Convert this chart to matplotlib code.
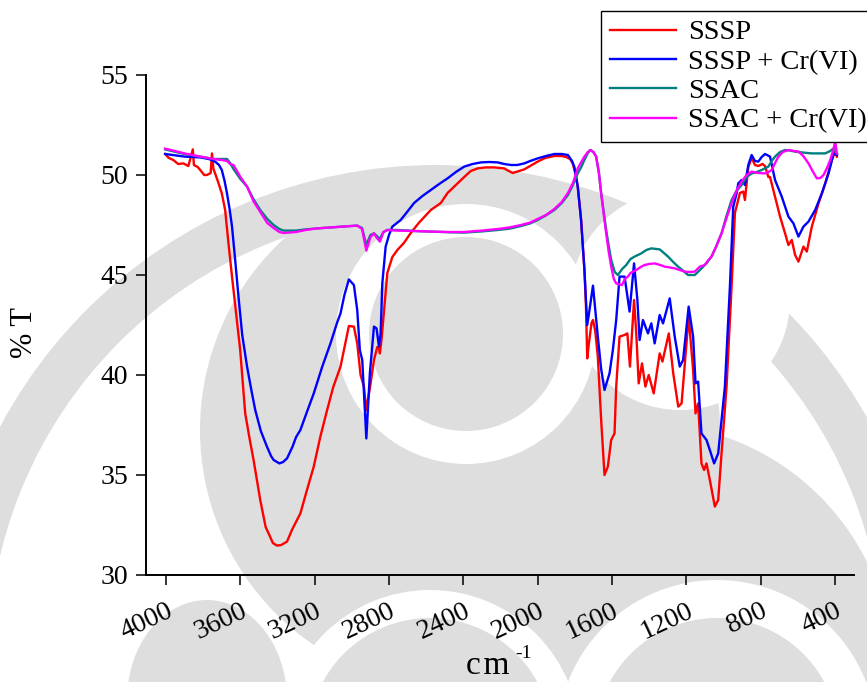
import matplotlib
matplotlib.use("Agg")
import matplotlib.pyplot as plt
from matplotlib.patches import Circle, Wedge, Ellipse

plt.rcParams['font.family'] = ['Liberation Serif', 'DejaVu Serif']

# FTIR spectra: wavenumber (cm-1) and transmittance (%)
sssp_wn = [4005, 3985, 3961, 3935, 3907, 3880, 3856, 3850, 3830, 3816, 3795, 3780, 3760, 3753,
           3745, 3736, 3718, 3700, 3682, 3664, 3645, 3628, 3601, 3574, 3550, 3529, 3493, 3464,
           3448, 3425, 3403, 3380, 3349, 3320, 3277, 3240, 3205, 3170, 3133, 3100, 3061, 3030,
           3016, 2989, 2971, 2953, 2935, 2922, 2899, 2881, 2863, 2854, 2849, 2840, 2827, 2809,
           2782, 2755, 2720, 2683, 2640, 2575, 2521, 2485, 2440, 2395, 2360, 2323, 2280, 2234,
           2200, 2180, 2155, 2134, 2100, 2072, 2040, 2000, 1960, 1910, 1870, 1847, 1825, 1811,
           1795, 1784, 1766, 1748, 1740, 1733, 1725, 1710, 1702, 1690, 1676, 1658, 1640, 1622,
           1604, 1586, 1577, 1559, 1532, 1517, 1503, 1492, 1481, 1469, 1456, 1438, 1420, 1402,
           1375, 1343, 1328, 1294, 1270, 1243, 1225, 1187, 1163, 1150, 1136, 1118, 1104, 1091,
           1073, 1046, 1028, 1010, 983, 956, 938, 911, 893, 884, 866, 848, 830, 812, 790, 776,
           758, 749, 722, 695, 668, 650, 632, 614, 596, 569, 551, 524, 488, 452, 416, 398, 389]
sssp_t = [51.05, 50.85, 50.75, 50.55, 50.58, 50.45, 51.28, 50.5, 50.4, 50.25, 50.0, 50.0, 50.1, 51.08,
          50.3, 50.08, 49.6, 49.08, 48.25, 46.58, 44.92, 43.5, 41.25, 38.08, 36.8, 35.75, 33.75, 32.4,
          32.08, 31.6, 31.47, 31.5, 31.67, 32.3, 33.08, 34.3, 35.42, 36.9, 38.25, 39.4, 40.42, 41.8,
          42.45, 42.42, 41.58, 40.0, 39.42, 38.25, 39.58, 40.75, 41.4, 41.33, 41.08, 41.8, 43.2, 45.1,
          45.9, 46.25, 46.6, 47.1, 47.6, 48.25, 48.6, 49.1, 49.5, 49.9, 50.2, 50.33, 50.38, 50.38,
          50.35, 50.33, 50.2, 50.1, 50.2, 50.28, 50.45, 50.67, 50.85, 50.95, 50.95, 50.9, 50.8, 50.58,
          50.0, 49.42, 47.75, 45.25, 43.5, 40.83, 41.5, 42.6, 42.75, 42.2, 40.92, 37.75, 35.0, 35.42,
          36.75, 37.08, 39.42, 41.92, 42.0, 42.08, 40.42, 42.08, 43.75, 42.08, 39.58, 40.58, 39.42, 40.0,
          39.08, 41.08, 40.67, 42.08, 40.08, 38.42, 38.58, 42.92, 40.25, 38.08, 38.58, 35.58, 35.25, 35.58,
          34.75, 33.42, 33.75, 36.08, 39.42, 44.42, 48.1, 49.1, 49.17, 48.75, 50.4, 50.85, 50.5, 50.45, 50.55, 50.45,
          49.9, 49.9, 48.92, 47.92, 47.08, 46.5, 46.75, 46.0, 45.67, 46.42, 46.17, 47.42, 48.58, 49.58, 50.75, 51.2, 50.92]

sssp_cr_wn = [4005, 3950, 3900, 3816, 3770, 3736, 3715, 3700, 3685, 3672, 3658, 3645, 3628, 3610,
              3590, 3564, 3540, 3520, 3490, 3457, 3435, 3421, 3390, 3370, 3349, 3320, 3300, 3277,
              3240, 3205, 3160, 3115, 3080, 3061, 3040, 3016, 2989, 2971, 2957, 2944, 2922, 2903,
              2881, 2867, 2854, 2845, 2836, 2818, 2800, 2782, 2737, 2701, 2665, 2620, 2575, 2530,
              2485, 2440, 2395, 2350, 2305, 2260, 2215, 2180, 2143, 2110, 2072, 2040, 2000, 1955,
              1910, 1870, 1837, 1815, 1802, 1784, 1766, 1748, 1740, 1733, 1720, 1702, 1690, 1676,
              1658, 1640, 1613, 1595, 1577, 1559, 1532, 1505, 1481, 1463, 1451, 1433, 1406, 1388,
              1370, 1343, 1325, 1289, 1262, 1235, 1217, 1187, 1163, 1150, 1136, 1118, 1091, 1073,
              1050, 1028, 992, 965, 947, 929, 920, 902, 884, 866, 848, 830, 812, 794, 776, 749,
              722, 686, 650, 623, 596, 569, 542, 506, 470, 434, 407, 389]
sssp_cr_t = [51.05, 50.98, 50.92, 50.88, 50.8, 50.67, 50.5, 50.25, 49.7, 49.08, 48.3, 47.42, 45.75, 43.9,
             42.0, 40.42, 39.2, 38.25, 37.2, 36.42, 35.95, 35.75, 35.58, 35.65, 35.83, 36.4, 36.9, 37.25,
             38.2, 39.08, 40.4, 41.58, 42.6, 43.08, 44.0, 44.78, 44.5, 43.25, 41.25, 40.75, 36.83, 40.08,
             42.42, 42.33, 41.42, 42.08, 44.58, 46.42, 47.0, 47.42, 47.75, 48.17, 48.6, 48.95, 49.25, 49.55,
             49.83, 50.15, 50.42, 50.55, 50.63, 50.65, 50.63, 50.55, 50.5, 50.5, 50.58, 50.7, 50.83, 50.95,
             51.05, 51.05, 51.0, 50.7, 50.4, 49.42, 47.75, 45.25, 43.8, 42.5, 43.3, 44.47, 43.3, 41.92,
             40.3, 39.25, 40.08, 41.25, 42.75, 44.92, 44.92, 43.17, 45.58, 43.75, 41.75, 42.75, 42.08, 42.58,
             41.58, 43.0, 42.58, 43.83, 41.92, 40.42, 40.75, 43.42, 41.92, 39.58, 39.67, 37.08, 36.75, 36.25,
             35.58, 36.08, 39.42, 44.42, 48.42, 49.08, 49.58, 49.75, 49.5, 50.5, 51.0, 50.7, 50.67, 50.9, 51.05, 50.92,
             49.75, 48.92, 47.92, 47.58, 46.92, 47.42, 47.67, 48.25, 49.08, 50.08, 51.08, 51.0]

ssac_wn = [4005, 3900, 3816, 3745, 3700, 3672, 3655, 3637, 3600, 3564, 3530, 3493, 3455, 3421,
           3390, 3367, 3300, 3250, 3187, 3080, 2971, 2945, 2922, 2900, 2881, 2865, 2849, 2830,
           2809, 2755, 2660, 2575, 2480, 2395, 2300, 2215, 2150, 2089, 2040, 2000, 1955, 1910,
           1870, 1837, 1810, 1784, 1765, 1748, 1730, 1716, 1700, 1685, 1670, 1658, 1645, 1631,
           1618, 1604, 1585, 1568, 1545, 1523, 1500, 1478, 1442, 1415, 1388, 1360, 1343, 1320,
           1298, 1270, 1244, 1215, 1190, 1154, 1118, 1090, 1064, 1040, 1010, 985, 956, 930,
           902, 875, 848, 820, 794, 758, 740, 722, 695, 668, 640, 614, 570, 524, 490, 452,
           425, 407, 389]
ssac_t = [51.28, 51.05, 50.92, 50.8, 50.8, 50.8, 50.6, 50.3, 49.8, 49.42, 48.8, 48.25, 47.8, 47.5,
          47.3, 47.22, 47.22, 47.28, 47.33, 47.4, 47.47, 47.35, 46.5, 47.0, 47.08, 46.95, 46.8, 47.15,
          47.25, 47.25, 47.2, 47.17, 47.14, 47.12, 47.18, 47.25, 47.32, 47.45, 47.58, 47.75, 47.98, 48.25,
          48.6, 49.0, 49.5, 50.08, 50.4, 50.75, 51.1, 51.25, 51.15, 50.92, 50.1, 49.08, 48.2, 47.25,
          46.5, 45.75, 45.15, 45.0, 45.3, 45.5, 45.8, 45.92, 46.08, 46.25, 46.33, 46.3, 46.28, 46.1,
          45.92, 45.65, 45.42, 45.2, 45.0, 45.0, 45.33, 45.6, 45.92, 46.4, 47.08, 47.9, 48.75, 49.2,
          49.5, 49.9, 50.08, 50.15, 50.25, 50.42, 50.7, 50.92, 51.15, 51.25, 51.22, 51.17, 51.12, 51.08, 51.08, 51.08,
          51.2, 51.33, 51.08]

ssac_cr_wn = [4005, 3900, 3816, 3745, 3700, 3672, 3655, 3637, 3600, 3564, 3530, 3493, 3455, 3421,
              3390, 3367, 3300, 3250, 3187, 3080, 2971, 2945, 2922, 2900, 2881, 2865, 2849, 2830,
              2809, 2755, 2660, 2575, 2480, 2395, 2300, 2215, 2150, 2089, 2040, 2000, 1955, 1910,
              1870, 1837, 1810, 1784, 1765, 1748, 1730, 1716, 1700, 1685, 1670, 1658, 1645, 1631,
              1618, 1604, 1590, 1577, 1546, 1530, 1514, 1500, 1469, 1445, 1424, 1400, 1370, 1340,
              1316, 1290, 1262, 1235, 1208, 1180, 1154, 1140, 1127, 1100, 1085, 1064, 1040, 1010,
              985, 956, 930, 902, 875, 848, 812, 776, 758, 740, 722, 704, 680, 650, 620, 596,
              570, 542, 520, 497, 478, 461, 440, 425, 410, 398, 389]
ssac_cr_t = [51.32, 51.08, 50.92, 50.8, 50.75, 50.7, 50.55, 50.5, 49.9, 49.42, 48.7, 48.15, 47.6, 47.35,
             47.15, 47.1, 47.15, 47.25, 47.33, 47.4, 47.47, 47.3, 46.22, 46.9, 47.08, 46.85, 46.67, 47.15,
             47.25, 47.22, 47.2, 47.17, 47.15, 47.15, 47.22, 47.3, 47.38, 47.5, 47.62, 47.8, 48.0, 48.3,
             48.65, 49.1, 49.6, 50.33, 50.65, 50.92, 51.15, 51.25, 51.15, 50.92, 50.1, 49.08, 48.1, 47.08,
             46.2, 45.42, 44.8, 44.58, 44.5, 44.8, 44.92, 45.1, 45.25, 45.4, 45.5, 45.55, 45.58, 45.5,
             45.42, 45.38, 45.33, 45.25, 45.17, 45.15, 45.17, 45.3, 45.42, 45.5, 45.7, 45.92, 46.4, 47.08,
             47.8, 48.58, 49.2, 49.67, 50.0, 50.17, 50.1, 50.08, 50.15, 50.25, 50.6, 50.92, 51.15, 51.25, 51.2, 51.17,
             50.95, 50.58, 50.2, 49.83, 49.85, 50.0, 50.4, 50.75, 51.2, 51.67, 51.08]

labels = ['SSSP', 'SSSP + Cr(VI)', 'SSAC', 'SSAC + Cr(VI)']
colors = ['#ff0000', '#0000ff', '#008080', '#ff00ff']
x_ticks = [4000, 3600, 3200, 2800, 2400, 2000, 1600, 1200, 800, 400]
y_ticks = [30, 35, 40, 45, 50, 55]

W, H = 867, 682
fig = plt.figure(figsize=(W / 100, H / 100), dpi=100)

# faint emblem in the background (pixel coordinates)
bg = fig.add_axes([0, 0, 1, 1], zorder=0)
bg.set_xlim(0, W)
bg.set_ylim(H, 0)
bg.axis('off')
wm = '#dedede'
bg.add_patch(Wedge((436, 659), 494, 0, 360, width=46, color=wm, lw=0))
bg.add_patch(Circle((460, 430), 260, color=wm, lw=0))
bg.add_patch(Circle((643, 673), 250, color=wm, lw=0))
bg.add_patch(Circle((466, 334), 130, color='white', lw=0))
bg.add_patch(Circle((680, 300), 110, color='white', lw=0))
bg.add_patch(Circle((466, 334), 97, color=wm, lw=0))
bg.add_patch(Circle((430, 740), 150, color='white', lw=0))
bg.add_patch(Circle((430, 740), 122, color=wm, lw=0))
bg.add_patch(Circle((717, 740), 160, color='white', lw=0))
bg.add_patch(Circle((717, 740), 122, color=wm, lw=0))
bg.add_patch(Ellipse((207, 700), 160, 200, color=wm, lw=0))

ax = fig.add_axes([146 / W, 1 - 575 / H, (854 - 146) / W, 500 / H], zorder=1)
ax.patch.set_alpha(0)

series = [(sssp_wn, sssp_t), (sssp_cr_wn, sssp_cr_t), (ssac_wn, ssac_t), (ssac_cr_wn, ssac_cr_t)]
for (wn, t), lab, c in zip(series, labels, colors):
    ax.plot(wn, t, color=c, lw=1.7, label=lab)

ax.set_xlim(4108, 297)
ax.set_ylim(30, 55)
ax.set_xticks(x_ticks)
ax.set_yticks(y_ticks)
ax.spines['top'].set_visible(False)
ax.spines['right'].set_visible(False)
for s in ['left', 'bottom']:
    ax.spines[s].set_linewidth(1.4)
ax.tick_params(direction='out', length=7, width=1.1, labelsize=20)
ax.tick_params(axis='y', pad=6)
ax.tick_params(axis='x', pad=10)
for lbl in ax.get_xticklabels():
    lbl.set_rotation(25)
    lbl.set_rotation_mode('anchor')
    lbl.set_ha('right')
    lbl.set_va('top')

fig.text(25 / W, 1 - 332 / H, '% T', rotation=90, ha='center', va='center', fontsize=22)
fig.text(488 / W, 1 - 666 / H, 'c\u200am', ha='center', va='center', fontsize=24)
fig.text(524 / W, 1 - 654 / H, '-1', ha='center', va='center', fontsize=14)

leg = ax.legend(loc='upper left', bbox_to_anchor=(601 / W, 1 - 11 / H), bbox_transform=fig.transFigure,
                fontsize=20.5, frameon=True, fancybox=False, framealpha=1, edgecolor='black',
                handlelength=2.35, handletextpad=0.4, labelspacing=0.12, borderpad=0.3, borderaxespad=0)
leg.get_frame().set_linewidth(1.0)

fig.savefig('out.png', dpi=100)
